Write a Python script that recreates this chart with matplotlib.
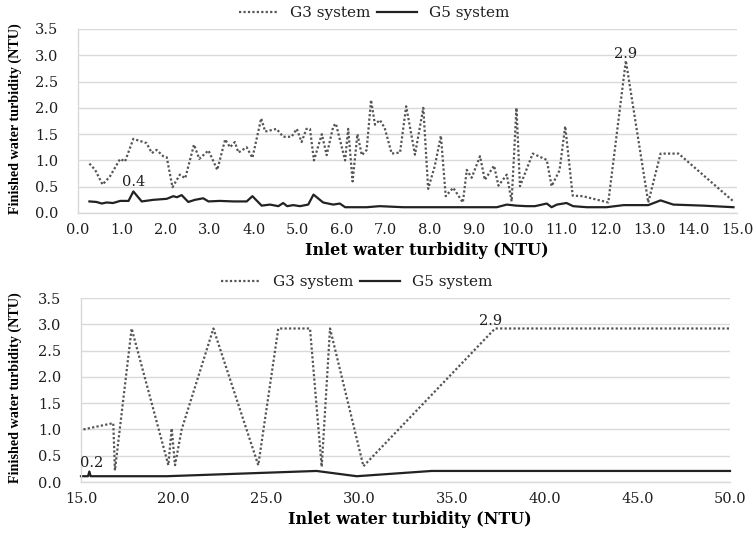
import matplotlib
matplotlib.use("Agg")
import matplotlib.pyplot as plt

# ---------------- data: top panel (inlet 0-15 NTU) ----------------
top_g3_x = [0.26, 0.39, 0.56, 0.73, 0.96, 1.07, 1.26, 1.56, 1.68, 1.79, 1.94, 2.02,
            2.15, 2.32, 2.44, 2.64, 2.76, 2.97, 3.17, 3.35, 3.46, 3.57, 3.65, 3.84,
            3.97, 4.17, 4.26, 4.52, 4.67, 4.86, 4.98, 5.09, 5.20, 5.28, 5.37, 5.55,
            5.66, 5.81, 5.87, 6.08, 6.15, 6.25, 6.36, 6.46, 6.57, 6.67, 6.76, 6.87,
            6.98, 7.14, 7.33, 7.47, 7.67, 7.86, 7.97, 8.12, 8.26, 8.37, 8.54, 8.76,
            8.85, 8.96, 9.15, 9.26, 9.47, 9.57, 9.76, 9.87, 9.98, 10.06, 10.35, 10.67,
            10.78, 10.96, 11.09, 11.26, 11.49, 12.07, 12.47, 12.98, 13.26, 13.67, 14.92]
top_g3_y = [0.94, 0.82, 0.54, 0.70, 1.03, 0.98, 1.41, 1.33, 1.14, 1.20, 1.08, 1.06,
            0.49, 0.73, 0.66, 1.30, 1.03, 1.19, 0.82, 1.40, 1.25, 1.35, 1.15, 1.25,
            1.05, 1.80, 1.55, 1.60, 1.45, 1.45, 1.60, 1.35, 1.60, 1.60, 1.00, 1.50,
            1.10, 1.65, 1.70, 1.00, 1.60, 0.60, 1.50, 1.10, 1.20, 2.15, 1.68, 1.77,
            1.62, 1.13, 1.15, 2.03, 1.11, 2.00, 0.46, 0.89, 1.47, 0.32, 0.48, 0.20,
            0.82, 0.67, 1.08, 0.63, 0.90, 0.52, 0.73, 0.22, 2.00, 0.51, 1.13, 1.01,
            0.51, 0.81, 1.65, 0.33, 0.32, 0.20, 2.90, 0.20, 1.13, 1.13, 0.22]

top_g5_x = [0.26, 0.42, 0.54, 0.65, 0.80, 0.96, 1.15, 1.26, 1.45, 1.71, 2.02, 2.17,
            2.25, 2.36, 2.51, 2.66, 2.85, 2.97, 3.23, 3.54, 3.84, 3.97, 4.18, 4.37,
            4.56, 4.67, 4.76, 4.90, 5.05, 5.24, 5.36, 5.58, 5.81, 5.96, 6.08, 6.57,
            6.87, 7.40, 8.16, 8.92, 9.53, 9.76, 9.98, 10.21, 10.40, 10.67, 10.78,
            10.90, 11.12, 11.27, 11.58, 12.03, 12.42, 12.98, 13.26, 13.55, 14.23, 14.92]
top_g5_y = [0.22, 0.21, 0.18, 0.20, 0.19, 0.23, 0.23, 0.41, 0.22, 0.25, 0.27, 0.32,
            0.30, 0.34, 0.21, 0.25, 0.28, 0.22, 0.23, 0.22, 0.22, 0.32, 0.14, 0.16,
            0.13, 0.19, 0.13, 0.15, 0.13, 0.16, 0.35, 0.20, 0.16, 0.18, 0.11, 0.11,
            0.13, 0.11, 0.11, 0.11, 0.11, 0.16, 0.14, 0.13, 0.13, 0.18, 0.11,
            0.16, 0.19, 0.13, 0.11, 0.11, 0.15, 0.15, 0.24, 0.16, 0.14, 0.11]

# ---------------- data: bottom panel (inlet 15-50 NTU) ----------------
bot_g3_x = [15.13, 16.74, 16.83, 17.73, 19.71, 19.89, 20.07, 20.43, 22.14, 24.56,
            25.64, 27.35, 27.98, 28.43, 30.23, 37.33, 50.0]
bot_g3_y = [1.00, 1.12, 0.22, 2.92, 0.32, 1.02, 0.32, 1.00, 2.92, 0.32,
            2.92, 2.92, 0.29, 2.92, 0.30, 2.92, 2.92]

bot_g5_x = [15.0, 15.38, 15.45, 15.52, 19.62, 27.70, 29.87, 33.91, 50.0]
bot_g5_y = [0.11, 0.11, 0.20, 0.11, 0.11, 0.21, 0.11, 0.21, 0.21]

top_xticks = [float(v) for v in range(0, 16)]
bot_xticks = [15.0, 20.0, 25.0, 30.0, 35.0, 40.0, 45.0, 50.0]
yticks = [0.0, 0.5, 1.0, 1.5, 2.0, 2.5, 3.0, 3.5]
series_names = ["G3 system", "G5 system"]

# ---------------- styling ----------------
plt.rcParams['font.family'] = ['DejaVu Serif']
W, H = 756, 534
fig = plt.figure(figsize=(W / 100, H / 100), dpi=100)

G3_COLOR = '#555555'
G5_COLOR = '#222222'
TXT = '#1e1e1e'
GRID = '#d9d9d9'
FS = 10.5


def px_axes(l, r, t, b):
    return fig.add_axes([l / W, 1 - b / H, (r - l) / W, (b - t) / H])


def style(ax, xlim, xticks):
    ax.set_xlim(*xlim)
    ax.set_ylim(0, 3.5)
    ax.set_xticks(xticks)
    ax.set_xticklabels([f"{v:.1f}" for v in xticks])
    ax.set_yticks(yticks)
    ax.set_yticklabels([f"{v:.1f}" for v in yticks])
    ax.grid(axis='y', color=GRID, lw=1.0)
    ax.set_axisbelow(True)
    for s in ['top', 'right']:
        ax.spines[s].set_visible(False)
    for s in ['left', 'bottom']:
        ax.spines[s].set_color(GRID)
        ax.spines[s].set_linewidth(1.0)
    ax.tick_params(length=0, labelsize=FS, colors=TXT, pad=7)
    ax.tick_params(axis='y', pad=14)


def draw(ax, g3x, g3y, g5x, g5y, lx, ly):
    l1, = ax.plot(g3x, g3y, color=G3_COLOR, lw=1.6, ls=(0, (1, 1)),
                  label=series_names[0], clip_on=False)
    l2, = ax.plot(g5x, g5y, color=G5_COLOR, lw=1.6, ls='-',
                  label=series_names[1], clip_on=False)
    leg = ax.legend(handles=[l1, l2], loc='center', bbox_to_anchor=(lx, ly), ncol=2,
                    frameon=False, fontsize=FS + 0.5, handlelength=2.6,
                    columnspacing=0.4, handletextpad=0.8, borderaxespad=0)
    for t in leg.get_texts():
        t.set_color(TXT)


# top panel
ax1 = px_axes(78, 737, 29, 213)
style(ax1, (0, 15), top_xticks)
draw(ax1, top_g3_x, top_g3_y, top_g5_x, top_g5_y, 0.449, 1.087)
ax1.annotate("0.4", (top_g5_x[7], top_g5_y[7]), xytext=(0, 2),
             textcoords='offset points', ha='center', va='bottom', fontsize=FS, color=TXT)
ax1.annotate("2.9", (top_g3_x[78], top_g3_y[78]), xytext=(0, 0),
             textcoords='offset points', ha='center', va='bottom', fontsize=FS, color=TXT)

# bottom panel
ax2 = px_axes(81, 730, 298, 482)
style(ax2, (15, 50), bot_xticks)
draw(ax2, bot_g3_x, bot_g3_y, bot_g5_x, bot_g5_y, 0.425, 1.087)
ax2.annotate("0.2", (bot_g5_x[2], bot_g5_y[2]), xytext=(2, 1),
             textcoords='offset points', ha='center', va='bottom', fontsize=FS, color=TXT)
ax2.annotate("2.9", (bot_g3_x[15], bot_g3_y[15]), xytext=(-3, 0),
             textcoords='offset points', ha='center', va='bottom', fontsize=FS, color=TXT)

# axis titles
for ycen in [(22 + 215) / 2, (291 + 484) / 2]:
    fig.text(15 / W, 1 - ycen / H, "Finished water turbidity (NTU)", rotation=90,
             ha='center', va='center', fontsize=10.2, fontweight='bold', color='black',
             family='Liberation Serif')
fig.text(427 / W, 1 - 251 / H, "Inlet water turbidity (NTU)", ha='center', va='center',
         fontsize=11.5, fontweight='bold', color='black')
fig.text(410 / W, 1 - 520 / H, "Inlet water turbidity (NTU)", ha='center', va='center',
         fontsize=11.5, fontweight='bold', color='black')

fig.savefig("out.png", dpi=100)
